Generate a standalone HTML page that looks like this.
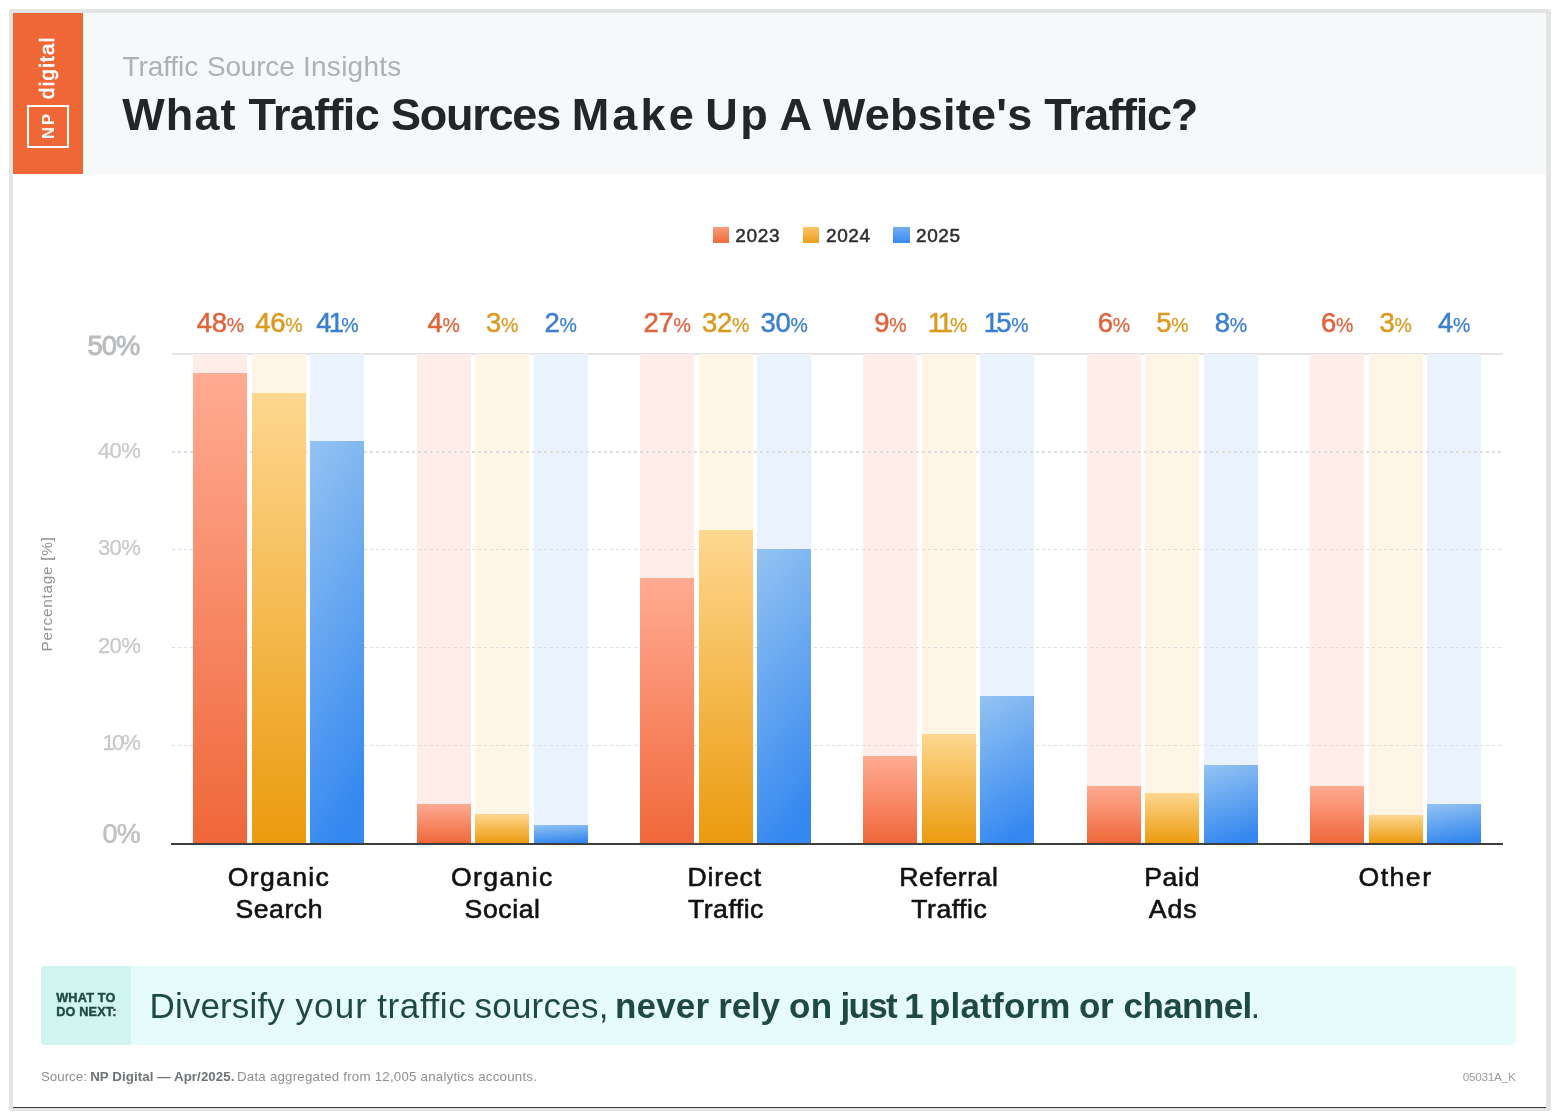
<!DOCTYPE html>
<html><head><meta charset="utf-8"><title>What Traffic Sources Make Up A Website's Traffic?</title>
<style>
html,body{margin:0;padding:0;background:#fff;}
body{width:1560px;height:1120px;position:relative;overflow:hidden;font-family:"Liberation Sans",sans-serif;}
.t{position:absolute;white-space:pre;display:block;}
#frame{position:absolute;left:9px;top:9px;width:1542px;height:1101.5px;background:#e3e4e4;border-radius:3px;}
#card{position:absolute;left:13.3px;top:13.3px;width:1532.7px;height:1093.6px;background:#fff;border-bottom:1.3px solid #3a3a3a;}
#head{position:absolute;left:13.3px;top:13.3px;width:1532.7px;height:161px;background:#f7f8fa;}
#logo{position:absolute;left:13.3px;top:13.3px;width:69.6px;height:161px;background:#f06737;}
#logo .in{position:absolute;left:0;top:0;width:161px;height:69.6px;transform-origin:0 0;transform:rotate(-90deg) translate(-161px,0);color:#fff;}
#logo .np{position:absolute;left:26.2px;top:13.5px;width:42.8px;height:42px;border:2px solid #fff;box-sizing:border-box;font-weight:bold;font-size:16.5px;line-height:38.4px;text-align:center;letter-spacing:2px;padding-left:2px}
#logo .dg{position:absolute;left:75px;top:24px;font-size:20.5px;line-height:20px;letter-spacing:1.3px;-webkit-text-stroke:0.7px #fff;}
.leg{position:absolute;top:227px;width:16.3px;height:16px;}
.grid{position:absolute;left:172px;width:1331px;height:1.4px;background:repeating-linear-gradient(90deg,#dddddd 0,#dddddd 3px,transparent 3px,transparent 6px);}
#topline{position:absolute;left:172px;width:1331px;top:353.2px;height:1.6px;background:#e4e4e4;}
#axis{position:absolute;left:171px;width:1332px;top:842.7px;height:2.4px;background:#3d3d3d;}
.bg{position:absolute;top:354.0px;height:488.7px;width:54px;}
.obg{background:#feede8;} .ybg{background:#fff5e7;} .bbg{background:#e9f2fd;}
.bar{position:absolute;width:54px;}
.o{background:linear-gradient(180deg,#ffab92 0%,#f0673a 100%);}
.y{background:linear-gradient(180deg,#fed790 0%,#eb9b0e 100%);}
.b{background:linear-gradient(168deg,#8fbdf3 0%,#3588f0 85%);}
.val{position:absolute;top:304.5px;width:80px;text-align:center;font-size:27.5px;line-height:36px;white-space:nowrap;-webkit-text-stroke:0.5px currentColor;letter-spacing:-0.3px}
.val .p{font-size:19.5px;-webkit-text-stroke-width:0.25px;}
.val .one{margin:0 -2.6px;}
.ot{color:#e0633c;} .yt{color:#db9a1f;} .bt{color:#3b7fd1;}
#yt{position:absolute;left:-53.5px;top:585px;width:200px;text-align:center;font-size:15.3px;line-height:18px;color:#8f9396;transform:rotate(-90deg);white-space:nowrap;letter-spacing:0.75px}
#call{position:absolute;left:41px;top:965.5px;width:1475px;height:79.5px;background:#e6fcfb;border-radius:4px;overflow:hidden;}
#call .w{position:absolute;left:0;top:0;width:90px;height:100%;background:#d0f5f1;}
</style></head><body>
<div id="frame"></div>
<div id="card"></div>
<div id="head"></div>
<div id="logo"><div class="in"><div class="np">NP</div><div class="dg">digital</div></div></div>
<div class="leg" style="left:712.8px;background:linear-gradient(#fa9a7c,#f06a3c)"></div>
<div class="leg" style="left:803px;background:linear-gradient(#fbc566,#ec9e18)"></div>
<div class="leg" style="left:893.4px;background:linear-gradient(#74aef3,#3a8af0)"></div>
<div id="topline"></div>
<div class="bg obg" style="left:193.3px"></div>
<div class="bg ybg" style="left:251.8px"></div>
<div class="bg bbg" style="left:310.3px"></div>
<div class="bg obg" style="left:416.6px"></div>
<div class="bg ybg" style="left:475.1px"></div>
<div class="bg bbg" style="left:533.6px"></div>
<div class="bg obg" style="left:640.0px"></div>
<div class="bg ybg" style="left:698.5px"></div>
<div class="bg bbg" style="left:757.0px"></div>
<div class="bg obg" style="left:863.3px"></div>
<div class="bg ybg" style="left:921.8px"></div>
<div class="bg bbg" style="left:980.3px"></div>
<div class="bg obg" style="left:1086.7px"></div>
<div class="bg ybg" style="left:1145.2px"></div>
<div class="bg bbg" style="left:1203.7px"></div>
<div class="bg obg" style="left:1310.0px"></div>
<div class="bg ybg" style="left:1368.5px"></div>
<div class="bg bbg" style="left:1427.0px"></div>
<div class="grid" style="top:451.4px"></div>
<div class="grid" style="top:549.0px"></div>
<div class="grid" style="top:647.1px"></div>
<div class="grid" style="top:745.0px"></div>
<div class="bar o" style="left:193.3px;top:372.7px;height:470.0px"></div>
<div class="bar y" style="left:251.8px;top:393.3px;height:449.4px"></div>
<div class="bar b" style="left:310.3px;top:441.3px;height:401.4px;background:linear-gradient(121.4deg,#94c3f1 0%,#3588f0 90%)"></div>
<div class="bar o" style="left:416.6px;top:803.5px;height:39.2px"></div>
<div class="bar y" style="left:475.1px;top:814.4px;height:28.3px"></div>
<div class="bar b" style="left:533.6px;top:824.6px;height:18.1px;background:linear-gradient(175.8deg,#94c3f1 0%,#3588f0 90%)"></div>
<div class="bar o" style="left:640.0px;top:577.6px;height:265.1px"></div>
<div class="bar y" style="left:698.5px;top:529.7px;height:313.0px"></div>
<div class="bar b" style="left:757.0px;top:549.4px;height:293.3px;background:linear-gradient(129.9deg,#94c3f1 0%,#3588f0 90%)"></div>
<div class="bar o" style="left:863.3px;top:756.0px;height:86.7px"></div>
<div class="bar y" style="left:921.8px;top:734.4px;height:108.3px"></div>
<div class="bar b" style="left:980.3px;top:696.4px;height:146.3px;background:linear-gradient(149.2deg,#94c3f1 0%,#3588f0 90%)"></div>
<div class="bar o" style="left:1086.7px;top:785.5px;height:57.2px"></div>
<div class="bar y" style="left:1145.2px;top:793.2px;height:49.5px"></div>
<div class="bar b" style="left:1203.7px;top:764.7px;height:78.0px;background:linear-gradient(162.4deg,#94c3f1 0%,#3588f0 90%)"></div>
<div class="bar o" style="left:1310.0px;top:785.5px;height:57.2px"></div>
<div class="bar y" style="left:1368.5px;top:815.0px;height:27.7px"></div>
<div class="bar b" style="left:1427.0px;top:803.5px;height:39.2px;background:linear-gradient(170.9deg,#94c3f1 0%,#3588f0 90%)"></div>
<div id="axis"></div>
<div class="val ot" style="left:180.3px">48<span class="p">%</span></div>
<div class="val yt" style="left:238.8px">46<span class="p">%</span></div>
<div class="val bt" style="left:297.3px">4<span class="one">1</span><span class="p">%</span></div>
<div class="val ot" style="left:403.6px">4<span class="p">%</span></div>
<div class="val yt" style="left:462.1px">3<span class="p">%</span></div>
<div class="val bt" style="left:520.6px">2<span class="p">%</span></div>
<div class="val ot" style="left:627.0px">27<span class="p">%</span></div>
<div class="val yt" style="left:685.5px">32<span class="p">%</span></div>
<div class="val bt" style="left:744.0px">30<span class="p">%</span></div>
<div class="val ot" style="left:850.3px">9<span class="p">%</span></div>
<div class="val yt" style="left:908.8px"><span class="one">1</span><span class="one">1</span><span class="p">%</span></div>
<div class="val bt" style="left:967.3px"><span class="one">1</span>5<span class="p">%</span></div>
<div class="val ot" style="left:1073.7px">6<span class="p">%</span></div>
<div class="val yt" style="left:1132.2px">5<span class="p">%</span></div>
<div class="val bt" style="left:1190.7px">8<span class="p">%</span></div>
<div class="val ot" style="left:1297.0px">6<span class="p">%</span></div>
<div class="val yt" style="left:1355.5px">3<span class="p">%</span></div>
<div class="val bt" style="left:1414.0px">4<span class="p">%</span></div>
<div id="yt">Percentage [%]</div>
<div id="call"><div class="w"></div></div>
<span class="t" style="left:122.3px;top:88.4px;font-size:45px;line-height:54px;letter-spacing:1.07px;font-weight:bold;color:#232529;">What</span>
<span class="t" style="left:248.6px;top:88.4px;font-size:45px;line-height:54px;letter-spacing:-0.65px;font-weight:bold;color:#232529;">Traffic</span>
<span class="t" style="left:391.1px;top:88.4px;font-size:45px;line-height:54px;letter-spacing:-1.25px;font-weight:bold;color:#232529;">Sources</span>
<span class="t" style="left:571.7px;top:88.4px;font-size:45px;line-height:54px;letter-spacing:3.20px;font-weight:bold;color:#232529;">Make</span>
<span class="t" style="left:705.2px;top:88.4px;font-size:45px;line-height:54px;letter-spacing:2.50px;font-weight:bold;color:#232529;">Up</span>
<span class="t" style="left:779.5px;top:88.4px;font-size:45px;line-height:54px;letter-spacing:0.00px;font-weight:bold;color:#232529;">A</span>
<span class="t" style="left:822.8px;top:88.4px;font-size:45px;line-height:54px;letter-spacing:0.25px;font-weight:bold;color:#232529;">Website's</span>
<span class="t" style="left:1044.2px;top:88.4px;font-size:45px;line-height:54px;letter-spacing:-1.20px;font-weight:bold;color:#232529;">Traffic?</span>
<span class="t" style="left:122.4px;top:50.3px;font-size:28px;line-height:34px;letter-spacing:-0.07px;color:#adb1b5;">Traffic</span>
<span class="t" style="left:207.0px;top:50.3px;font-size:28px;line-height:34px;letter-spacing:-0.20px;color:#adb1b5;">Source</span>
<span class="t" style="left:303.0px;top:50.3px;font-size:28px;line-height:34px;letter-spacing:0.26px;color:#adb1b5;">Insights</span>
<span class="t" style="left:735.2px;top:223.6px;font-size:19px;line-height:23px;letter-spacing:0.73px;color:#2a2c30;-webkit-text-stroke:0.5px #2a2c30;">2023</span>
<span class="t" style="left:826.0px;top:223.6px;font-size:19px;line-height:23px;letter-spacing:0.60px;color:#2a2c30;-webkit-text-stroke:0.5px #2a2c30;">2024</span>
<span class="t" style="left:916.0px;top:223.6px;font-size:19px;line-height:23px;letter-spacing:0.60px;color:#2a2c30;-webkit-text-stroke:0.5px #2a2c30;">2025</span>
<span class="t" style="left:149.5px;top:984.7px;font-size:35px;line-height:42px;letter-spacing:0.14px;color:#1f4a43;">Diversify</span>
<span class="t" style="left:295.4px;top:984.7px;font-size:35px;line-height:42px;letter-spacing:1.17px;color:#1f4a43;">your</span>
<span class="t" style="left:377.3px;top:984.7px;font-size:35px;line-height:42px;letter-spacing:0.58px;color:#1f4a43;">traffic</span>
<span class="t" style="left:474.4px;top:984.7px;font-size:35px;line-height:42px;letter-spacing:0.26px;color:#1f4a43;">sources,</span>
<span class="t" style="left:614.9px;top:984.7px;font-size:35px;line-height:42px;letter-spacing:0.20px;font-weight:bold;color:#1f4a43;">never</span>
<span class="t" style="left:718.2px;top:984.7px;font-size:35px;line-height:42px;letter-spacing:-0.13px;font-weight:bold;color:#1f4a43;">rely</span>
<span class="t" style="left:789.0px;top:984.7px;font-size:35px;line-height:42px;letter-spacing:0.40px;font-weight:bold;color:#1f4a43;">on</span>
<span class="t" style="left:840.5px;top:984.7px;font-size:35px;line-height:42px;letter-spacing:-1.73px;font-weight:bold;color:#1f4a43;">just</span>
<span class="t" style="left:904.3px;top:984.7px;font-size:35px;line-height:42px;letter-spacing:0.00px;font-weight:bold;color:#1f4a43;">1</span>
<span class="t" style="left:929.0px;top:984.7px;font-size:35px;line-height:42px;letter-spacing:0.21px;font-weight:bold;color:#1f4a43;">platform</span>
<span class="t" style="left:1078.9px;top:984.7px;font-size:35px;line-height:42px;letter-spacing:-0.30px;font-weight:bold;color:#1f4a43;">or</span>
<span class="t" style="left:1123.6px;top:984.7px;font-size:35px;line-height:42px;letter-spacing:-0.60px;font-weight:bold;color:#1f4a43;">channel</span>
<span class="t" style="left:1250.5px;top:984.7px;font-size:35px;line-height:42px;letter-spacing:0.00px;color:#1f4a43;">.</span>
<span class="t" style="left:56.2px;top:991.1px;font-size:12.7px;line-height:15px;letter-spacing:0.20px;font-weight:bold;color:#1f4a43;-webkit-text-stroke:0.4px #1f4a43;">WHAT TO</span>
<span class="t" style="left:56.2px;top:1004.6px;font-size:12.7px;line-height:15px;letter-spacing:0.17px;font-weight:bold;color:#1f4a43;-webkit-text-stroke:0.4px #1f4a43;">DO NEXT:</span>
<span class="t" style="left:40.9px;top:1068.6px;font-size:13.3px;line-height:16px;letter-spacing:0.03px;color:#8b8f92;">Source:</span>
<span class="t" style="left:90.2px;top:1068.6px;font-size:13.3px;line-height:16px;letter-spacing:0.08px;font-weight:bold;color:#6f7376;">NP Digital — Apr/2025.</span>
<span class="t" style="left:237.0px;top:1068.6px;font-size:13.3px;line-height:16px;letter-spacing:0.22px;color:#8b8f92;">Data aggregated from 12,005 analytics accounts.</span>
<span class="t" style="left:1462.7px;top:1069.6px;font-size:11.8px;line-height:14px;letter-spacing:-0.29px;color:#9a9da0;">05031A_K</span>
<span class="t" style="left:87.6px;top:329.4px;font-size:27.3px;line-height:33px;letter-spacing:-0.95px;color:#b9bcbe;-webkit-text-stroke:0.9px #b9bcbe;">50%</span>
<span class="t" style="left:102.6px;top:817.5px;font-size:27px;line-height:32px;letter-spacing:-0.90px;color:#bfc1c3;-webkit-text-stroke:0.6px #bfc1c3;">0%</span>
<span class="t" style="left:97.9px;top:438.4px;font-size:22px;line-height:26px;letter-spacing:-0.60px;color:#c6c8ca;-webkit-text-stroke:0.25px #c6c8ca;">40%</span>
<span class="t" style="left:97.9px;top:534.7px;font-size:22px;line-height:26px;letter-spacing:-0.60px;color:#c6c8ca;-webkit-text-stroke:0.25px #c6c8ca;">30%</span>
<span class="t" style="left:97.9px;top:633.2px;font-size:22px;line-height:26px;letter-spacing:-0.60px;color:#c6c8ca;-webkit-text-stroke:0.25px #c6c8ca;">20%</span>
<span class="t" style="left:102.6px;top:730.1px;font-size:22px;line-height:26px;letter-spacing:-2.95px;color:#c6c8ca;-webkit-text-stroke:0.25px #c6c8ca;">10%</span>
<span class="t" style="left:227.8px;top:861.3px;font-size:26.6px;line-height:32px;letter-spacing:1.33px;color:#111;-webkit-text-stroke:0.6px #111;">Organic</span>
<span class="t" style="left:235.5px;top:892.8px;font-size:26.6px;line-height:32px;letter-spacing:0.54px;color:#111;-webkit-text-stroke:0.6px #111;">Search</span>
<span class="t" style="left:451.1px;top:861.3px;font-size:26.6px;line-height:32px;letter-spacing:1.33px;color:#111;-webkit-text-stroke:0.6px #111;">Organic</span>
<span class="t" style="left:464.6px;top:892.8px;font-size:26.6px;line-height:32px;letter-spacing:0.60px;color:#111;-webkit-text-stroke:0.6px #111;">Social</span>
<span class="t" style="left:687.4px;top:861.3px;font-size:26.6px;line-height:32px;letter-spacing:0.86px;color:#111;-webkit-text-stroke:0.6px #111;">Direct</span>
<span class="t" style="left:688.0px;top:892.8px;font-size:26.6px;line-height:32px;letter-spacing:0.50px;color:#111;-webkit-text-stroke:0.6px #111;">Traffic</span>
<span class="t" style="left:899.3px;top:861.3px;font-size:26.6px;line-height:32px;letter-spacing:0.57px;color:#111;-webkit-text-stroke:0.6px #111;">Referral</span>
<span class="t" style="left:911.3px;top:892.8px;font-size:26.6px;line-height:32px;letter-spacing:0.50px;color:#111;-webkit-text-stroke:0.6px #111;">Traffic</span>
<span class="t" style="left:1144.2px;top:861.3px;font-size:26.6px;line-height:32px;letter-spacing:0.67px;color:#111;-webkit-text-stroke:0.6px #111;">Paid</span>
<span class="t" style="left:1148.7px;top:892.8px;font-size:26.6px;line-height:32px;letter-spacing:1.00px;color:#111;-webkit-text-stroke:0.6px #111;">Ads</span>
<span class="t" style="left:1358.5px;top:861.3px;font-size:26.6px;line-height:32px;letter-spacing:1.50px;color:#111;-webkit-text-stroke:0.6px #111;">Other</span>
</body></html>
